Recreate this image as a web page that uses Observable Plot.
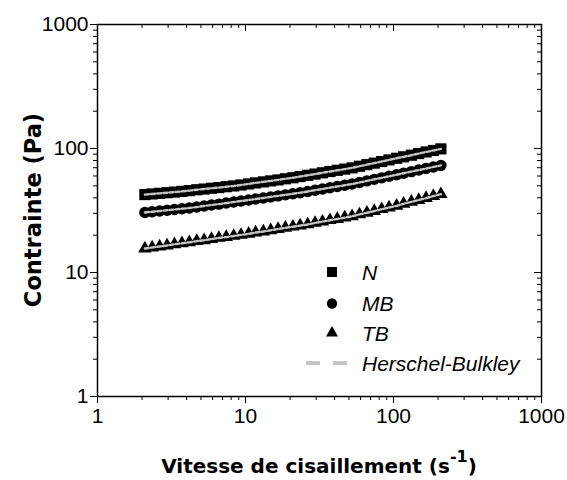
<!DOCTYPE html>
<html><head><meta charset="utf-8">
<script src="https://cdn.jsdelivr.net/npm/d3@7"></script>
<script src="https://cdn.jsdelivr.net/npm/@observablehq/plot@0.6"></script>
<style>body{margin:0;background:#fff} svg{display:block}</style>
</head><body><div id="chart"></div>
<script>
const shearRate = [2.09,2.34,2.63,2.95,3.31,3.72,4.17,4.68,5.25,5.89,6.61,7.41,8.32,9.33,10.5,11.7,13.2,14.8,16.6,18.6,20.9,23.4,26.3,29.5,33.1,37.2,41.7,46.8,52.5,58.9,66.1,74.1,83.2,93.3,105,117,132,148,166,186,209];
const stressN = [42.5,43.0,43.5,44.0,44.5,45.1,45.7,46.5,47.1,47.8,48.4,49.2,49.9,50.8,51.8,52.8,53.8,54.8,55.8,57.0,58.1,59.4,60.8,62.2,63.7,65.2,66.7,68.2,69.8,71.9,74.1,76.2,78.5,80.9,83.4,85.7,88.3,91.0,93.8,96.4,99.3];
const stressMB = [30.5,30.9,31.3,31.8,32.2,32.7,33.1,33.7,34.4,35.0,35.6,36.3,37.0,37.7,38.4,39.1,39.9,40.7,41.5,42.3,43.2,44.0,45.0,46.1,47.2,48.3,49.4,50.5,51.7,53.2,54.8,56.4,58.0,59.7,61.4,63.2,65.1,67.0,68.9,71.0,73.1];
const stressTB = [15.6,15.9,16.2,16.5,16.9,17.2,17.5,17.9,18.2,18.6,19.0,19.3,19.7,20.1,20.5,21.0,21.4,21.9,22.4,22.9,23.4,23.9,24.4,25.1,25.7,26.4,27.0,27.7,28.4,29.4,30.3,31.3,32.4,33.4,34.5,35.8,37.1,38.4,39.8,41.3,42.8];
const seriesNames = ["N", "MB", "TB"];
const fitName = "Herschel-Bulkley";
const majorTicks = [1, 10, 100, 1000];
const minorTicks = [2,3,4,5,6,7,8,9,20,30,40,50,60,70,80,90,200,300,400,500,600,700,800,900];
const xLabel = "Vitesse de cisaillement (s";
const xLabelSup = "-1";
const yLabel = "Contrainte (Pa)";

const seriesStress = [stressN, stressMB, stressTB];
const rows = [];
seriesNames.forEach((s, i) => shearRate.forEach((g, j) => rows.push({series: s, rate: g, stress: seriesStress[i][j]})));

const W = 567, H = 480, mL = 97, mR = 26, mT = 24, mB = 84;
const fw = W - mL - mR, fh = H - mT - mB;
const symbolOf = {N: "square", MB: "circle", TB: "triangle"};
const rOf = {N: 6.3, MB: 5.7, TB: 5.0};
const fitColor = "#c4c4c4";

const svg = Plot.plot({
  width: W, height: H,
  marginLeft: mL, marginRight: mR, marginTop: mT, marginBottom: mB,
  x: {type: "log", domain: [1, 1000], axis: null},
  y: {type: "log", domain: [1, 1000], axis: null},
  style: {background: "#fff", color: "#000", fontFamily: "Liberation Sans"},
  marks: [
    ...seriesNames.map(s => Plot.dot(rows.filter(d => d.series === s), {
      x: "rate", y: "stress", symbol: symbolOf[s], r: rOf[s], fill: "#000", stroke: "none"
    })),
    Plot.line(rows, {x: "rate", y: "stress", z: "series", stroke: fitColor, strokeWidth: 2.4, strokeDasharray: "4,2.2"}),
    // bottom ticks (outward)
    Plot.tickX(majorTicks, {x: d => d, insetTop: fh, insetBottom: -7, stroke: "#000"}),
    Plot.tickX(minorTicks, {x: d => d, insetTop: fh, insetBottom: -4, stroke: "#000"}),
    // top ticks (inward)
    Plot.tickX(majorTicks, {x: d => d, insetTop: 0, insetBottom: fh - 7, stroke: "#000"}),
    Plot.tickX(minorTicks, {x: d => d, insetTop: 0, insetBottom: fh - 4, stroke: "#000"}),
    // left ticks (outward)
    Plot.tickY(majorTicks, {y: d => d, insetLeft: -7, insetRight: fw, stroke: "#000"}),
    Plot.tickY(minorTicks, {y: d => d, insetLeft: -4, insetRight: fw, stroke: "#000"}),
    // right ticks (inward)
    Plot.tickY(majorTicks, {y: d => d, insetLeft: fw - 7, insetRight: 0, stroke: "#000"}),
    Plot.tickY(minorTicks, {y: d => d, insetLeft: fw - 4, insetRight: 0, stroke: "#000"}),
    Plot.text(majorTicks, {x: d => d, frameAnchor: "bottom", dy: 26, text: d => String(d), fontSize: 21, fill: "#000"}),
    Plot.text(majorTicks, {y: d => d, frameAnchor: "left", dx: -9, textAnchor: "end", text: d => String(d), fontSize: 21, fill: "#000"}),
    Plot.frame({stroke: "#000", strokeWidth: 1.5})
  ]
});
document.getElementById("chart").appendChild(svg);

const sel = d3.select(svg);
// axis titles
const xt = sel.append("text")
  .attr("x", mL + fw / 2).attr("y", 473)
  .attr("text-anchor", "middle")
  .attr("font-family", "DejaVu Sans").attr("font-weight", "bold").attr("font-size", 20)
  .attr("fill", "#000");
xt.append("tspan").text(xLabel);
xt.append("tspan").attr("dy", -11).attr("font-size", 16).text(xLabelSup);
xt.append("tspan").attr("dy", 11).text(")");

sel.append("text")
  .attr("transform", `translate(33,${mT + fh / 2}) rotate(-90)`)
  .attr("text-anchor", "middle").attr("dy", "0.35em")
  .attr("font-family", "DejaVu Sans").attr("font-weight", "bold").attr("font-size", 22.5)
  .attr("fill", "#000").text(yLabel);

// legend
const legY = [272, 303.5, 333];
const lg = sel.append("g").attr("text-anchor", "start");
seriesNames.forEach((s, i) => {
  const sym = {square: d3.symbolSquare, circle: d3.symbolCircle, triangle: d3.symbolTriangle}[symbolOf[s]];
  const r = rOf[s] * 0.9;
  lg.append("path")
    .attr("d", d3.symbol(sym, Math.PI * r * r)())
    .attr("transform", `translate(332,${legY[i]})`)
    .attr("fill", "#000");
  lg.append("text").attr("x", 362).attr("y", legY[i]).attr("dy", "0.36em")
    .attr("text-anchor", "start")
    .attr("font-family", "Liberation Sans").attr("font-style", "italic").attr("font-size", 21)
    .attr("fill", "#000").text(s);
});
lg.append("path").attr("d", "M306,363H348")
  .attr("fill", "none")
  .attr("stroke", fitColor).attr("stroke-width", 4).attr("stroke-dasharray", "14,13");
lg.append("text").attr("x", 362).attr("y", 363).attr("dy", "0.36em")
  .attr("text-anchor", "start")
  .attr("font-family", "Liberation Sans").attr("font-style", "italic").attr("font-size", 21)
  .attr("fill", "#000").text(fitName);
</script>
</body></html>
